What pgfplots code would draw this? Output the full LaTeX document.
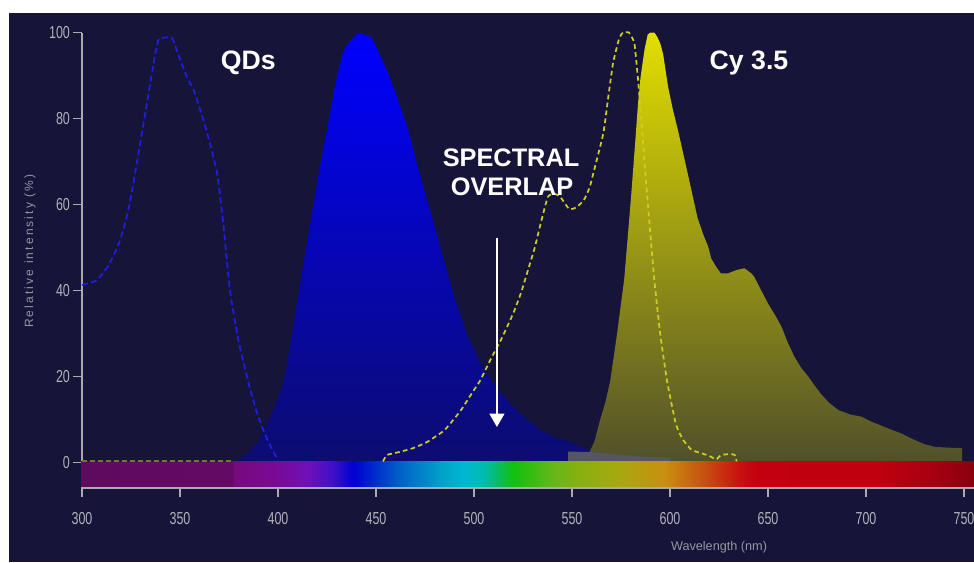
\documentclass[border=0pt]{standalone}
\usepackage{pgfplots}
\pgfplotsset{compat=1.18}
\usepackage{fontspec}
\setmainfont{Liberation Sans}
\newfontfamily\spaced[LetterSpace=18]{Liberation Sans}
\usetikzlibrary{arrows.meta}
\definecolor{bg}{RGB}{22,20,56}
\definecolor{axgray}{RGB}{170,170,175}
\definecolor{tickgray}{RGB}{178,178,184}
\definecolor{labgray}{RGB}{150,150,158}
\definecolor{blueTop}{RGB}{0,0,255}
\definecolor{blueBot}{RGB}{12,12,112}
\definecolor{yelTop}{RGB}{226,222,0}
\definecolor{yelBot}{RGB}{80,80,42}
\definecolor{dashblue}{RGB}{30,30,230}
\definecolor{dashyel}{RGB}{205,205,35}
\definecolor{dashyeldark}{RGB}{120,120,30}
\definecolor{overlapgray}{RGB}{85,85,102}
% spectrum colours
\definecolor{sp0}{HTML}{5E0A5E}
\definecolor{sp1}{HTML}{640A66}
\definecolor{sp2}{HTML}{760A7C}
\definecolor{sp3}{HTML}{7A0A98}
\definecolor{sp4}{HTML}{6E10B8}
\definecolor{sp5}{HTML}{4010C8}
\definecolor{sp6}{HTML}{0000D0}
\definecolor{sp7}{HTML}{0060C8}
\definecolor{sp8}{HTML}{00A0C8}
\definecolor{sp9}{HTML}{00B8D0}
\definecolor{sp10}{HTML}{00BCB0}
\definecolor{sp11}{HTML}{10C010}
\definecolor{sp12}{HTML}{60B818}
\definecolor{sp13}{HTML}{88B010}
\definecolor{sp14}{HTML}{A8A810}
\definecolor{sp15}{HTML}{C89010}
\definecolor{sp16}{HTML}{C85810}
\definecolor{sp17}{HTML}{C81010}
\definecolor{sp18}{HTML}{C2000F}
\definecolor{sp19}{HTML}{C0000F}
\definecolor{sp20}{HTML}{A00010}
\definecolor{sp21}{HTML}{880010}
\pgfdeclarehorizontalshading{spectrum}{100bp}{color(0bp)=(sp0); color(25bp)=(sp0); color(33.46bp)=(sp1); color(33.57bp)=(sp2); color(35.99bp)=(sp3); color(37.64bp)=(sp4); color(39.07bp)=(sp5); color(40.27bp)=(sp6); color(42.80bp)=(sp7); color(45.11bp)=(sp8); color(46.43bp)=(sp9); color(47.53bp)=(sp10); color(49.18bp)=(sp11); color(51.26bp)=(sp12); color(52.91bp)=(sp13); color(55.11bp)=(sp14); color(57.64bp)=(sp15); color(59.62bp)=(sp16); color(61.92bp)=(sp17); color(62.91bp)=(sp18); color(69.51bp)=(sp19); color(73.35bp)=(sp20); color(75bp)=(sp21); color(100bp)=(sp21)}

\begin{document}
\begin{tikzpicture}
\fill[white] (-61.5pt,-55.425pt) rectangle (669pt,366.075pt);
\fill[bg] (-54.75pt,-55.425pt) rectangle (669pt,356.325pt);
\path[use as bounding box] (-61.5pt,-55.425pt) rectangle (669pt,366.075pt);
\begin{axis}[
  at={(0pt,0pt)}, anchor=south west,
  scale only axis, width=668.85pt, height=341.7pt,
  xmin=300, xmax=755, ymin=-5.9, ymax=100,
  clip=false,
  axis x line*=bottom, axis y line*=left,
  x axis line style={draw=axgray, line width=1.4pt},
  y axis line style={draw=axgray, line width=0.9pt},
  xtick={300,350,...,750}, ytick={0,20,...,100},
  minor tick num=0,
  tick align=outside, major tick length=6.5pt,
  tick style={draw=axgray, line width=0.9pt},
  /pgf/number format/assume math mode=true,
  ticklabel style={font=\fontsize{13}{13}\selectfont, text=tickgray, xscale=0.72},
  xticklabel style={yshift=-8pt},
  yticklabel style={xshift=0pt},
]
% QD emission (filled)
\addplot[draw=none, top color=blueTop, bottom color=blueBot] coordinates {
(377,0)(381,1)(385,2.5)(390,5)(395,9.5)(400,15)(403,19)(406.5,28)(410,38)(414,49)(418.5,61)(421,68)(424,75)(426.5,81)(429,87.4)(431,91.5)(433,95)(435,97)(437,98)(439,99)(441,100)(444,99.5)(448,98.7)(452,94.7)(456,90.8)(460.7,85)(466.5,77.3)(472,67.5)(478,58)(484,48)(490,38.5)(497,29)(503.5,23)(509,19)(514,16)(520,13)(525.5,10.6)(534,7.5)(541,6)(548,5)(559,2.8)(566,2.2)(580,1.6)(600,1.1)(600,0)} \closedcycle;
% Cy3.5 emission (filled)
\addplot[draw=none, top color=yelTop, bottom color=yelBot] coordinates {
(556,0)(559,2.5)(561.5,5)(564.3,9.9)(567,14)(569.5,19)(573,30)(576.6,42.5)(580,61)(582,73)(583.7,83.6)(585,89.7)(587,96)(588.6,99.5)(590,100)(592,100)(593.5,99)(595,97.5)(596.5,95)(599,87.4)(601.5,82)(604,77.4)(609,67.3)(614,57)(617,53)(619.5,50.2)(621,47.5)(623.6,45.5)(626,44)(629.5,44)(634,44.8)(638,45.2)(641.5,44)(643,43.2)(646,40.5)(650,37)(654,34)(657,31.5)(660,28)(663.5,24.6)(667,22)(670.6,20)(674,17.8)(677,16)(681,14)(686,12.2)(692,11.2)(697.7,10.7)(703,9.5)(709.5,8.3)(714,7.5)(718,6.8)(722,5.9)(726.7,4.9)(730,4.3)(735,3.7)(742,3.5)(749,3.4)(749,0)} \closedcycle;
% overlap patch
\addplot[draw=none, fill=overlapgray] coordinates {
(548,0)(548,2.6)(559,2.5)(566,2.2)(580,1.6)(600,1.1)(600,0)} \closedcycle;
% spectrum bar
\shade[shading=spectrum] (axis cs:299.6,0.2) rectangle (axis cs:755,-5.6);
% QD absorption (dashed)
\addplot[dashblue, line width=1.3pt, dash pattern=on 4.5pt off 2.5pt, smooth, tension=0.3] coordinates {
(300,41.3)(307.5,42.4)(313,45.5)(318,50)(321,54)(324,59.5)(327,67)(330,75)(334,86)(337,94)(339,98.3)(342,98.8)(346,98.7)(349,95)(353.5,89.7)(357,86.6)(360,82.5)(363,78)(366,73)(369,67)(372,56)(375.5,40)(380,28)(385,18.5)(389,12)(392.5,7.6)(396,4)(400,0.6)};
% Cy3.5 absorption (dashed)
\addplot[dashyeldark, line width=1.3pt, dash pattern=on 3.5pt off 2.5pt] coordinates {(300,0.4)(377,0.4)};
\addplot[dashyel, line width=1.3pt, dash pattern=on 3.5pt off 2.5pt, smooth, tension=0.3] coordinates {
(453.6,0.3)(455.6,1.8)(462,2.5)(469,3.4)(476,4.8)(485,7.6)(493,12)(498,15.5)(503,19)(505,20.8)(509,24.5)(513.7,28.5)(520,34.7)(524,39.5)(527.5,44.7)(531,50)(534,55.6)(537.7,61.8)(541,62.5)(544,61.8)(548.5,59)(552,59.3)(556,61)(559,64)(561,67.5)(566,76.6)(568.5,85)(571,93)(574,98.5)(576,100)(579,100)(581,98.5)(582,97)(583.5,90)(585,82)(588,64)(592,42.5)(595,30)(598.5,19)(603,9)(606.7,5.3)(611,3)(616,2.2)(620,1.6)(622,1.1)(624,0.9)(626,1.8)(631,2)(633,1.8)(634,0.3)};
% arrow
\draw[white, line width=1.6pt, -{Triangle[width=11pt,length=10pt]}] (axis cs:511.7,52.2) -- (axis cs:511.7,8.3);
% texts
\node[anchor=base, white, font=\bfseries\fontsize{20}{20}\selectfont] at (axis cs:384.9,91.5) {QDs};
\node[anchor=base, white, font=\bfseries\fontsize{20}{20}\selectfont] at (axis cs:640.3,91.4) {Cy 3.5};
\node[anchor=base, white, font=\bfseries\fontsize{19}{19}\selectfont] at (axis cs:518.9,68.8) {SPECTRAL};
\node[anchor=base, white, font=\bfseries\fontsize{19}{19}\selectfont] at (axis cs:519.4,62.2) {OVERLAP};
\node[rotate=90, text=labgray, font=\spaced\fontsize{9}{9}\selectfont] at (axis cs:273.5,49.2) {Relative intensity (\%)};
\node[text=labgray, font=\fontsize{9.5}{9.5}\selectfont] at (axis cs:625,-19.6) {Wavelength (nm)};
\end{axis}
\end{tikzpicture}
\end{document}
